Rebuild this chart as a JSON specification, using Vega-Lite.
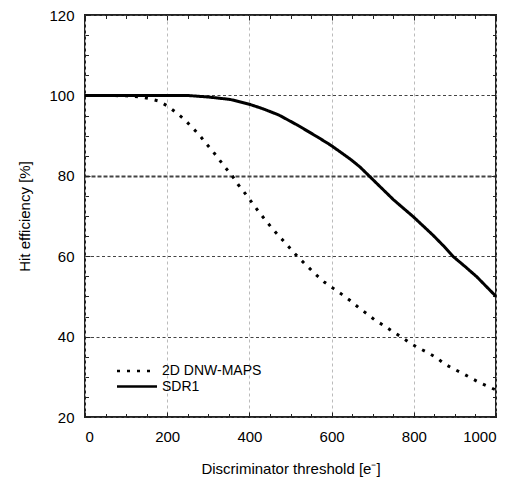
{
  "$schema": "https://vega.github.io/schema/vega-lite/v6.json",
  "width": 411,
  "height": 402,
  "autosize": {"type": "none"},
  "padding": {"left": 85, "top": 15, "right": 32, "bottom": 60},
  "background": "white",
  "config": {
    "view": {"stroke": "#222", "strokeWidth": 2},
    "font": "Liberation Sans",
    "axis": {"domain": false, "labelFont": "Liberation Sans", "titleFont": "Liberation Sans", "tickColor": "#222", "grid": false}
  },
  "data": {
    "values": [
      {"s": "2D DNW-MAPS", "x": 0, "y": 100},
      {"s": "2D DNW-MAPS", "x": 50, "y": 100},
      {"s": "2D DNW-MAPS", "x": 100, "y": 99.9},
      {"s": "2D DNW-MAPS", "x": 134, "y": 99.6},
      {"s": "2D DNW-MAPS", "x": 156, "y": 99.2},
      {"s": "2D DNW-MAPS", "x": 179, "y": 98.6},
      {"s": "2D DNW-MAPS", "x": 200, "y": 97.4},
      {"s": "2D DNW-MAPS", "x": 221, "y": 95.8},
      {"s": "2D DNW-MAPS", "x": 241, "y": 94.1},
      {"s": "2D DNW-MAPS", "x": 259, "y": 92.2},
      {"s": "2D DNW-MAPS", "x": 278, "y": 90.2},
      {"s": "2D DNW-MAPS", "x": 294, "y": 88.1},
      {"s": "2D DNW-MAPS", "x": 310, "y": 86.2},
      {"s": "2D DNW-MAPS", "x": 326, "y": 84.1},
      {"s": "2D DNW-MAPS", "x": 341, "y": 82.1},
      {"s": "2D DNW-MAPS", "x": 358, "y": 80.0},
      {"s": "2D DNW-MAPS", "x": 372, "y": 77.9},
      {"s": "2D DNW-MAPS", "x": 389, "y": 75.7},
      {"s": "2D DNW-MAPS", "x": 405, "y": 73.5},
      {"s": "2D DNW-MAPS", "x": 421, "y": 71.3},
      {"s": "2D DNW-MAPS", "x": 438, "y": 69.1},
      {"s": "2D DNW-MAPS", "x": 454, "y": 67.1},
      {"s": "2D DNW-MAPS", "x": 472, "y": 65.0},
      {"s": "2D DNW-MAPS", "x": 491, "y": 62.9},
      {"s": "2D DNW-MAPS", "x": 507, "y": 61.0},
      {"s": "2D DNW-MAPS", "x": 525, "y": 59.1},
      {"s": "2D DNW-MAPS", "x": 545, "y": 57.1},
      {"s": "2D DNW-MAPS", "x": 564, "y": 55.2},
      {"s": "2D DNW-MAPS", "x": 583, "y": 53.5},
      {"s": "2D DNW-MAPS", "x": 604, "y": 52.0},
      {"s": "2D DNW-MAPS", "x": 625, "y": 50.5},
      {"s": "2D DNW-MAPS", "x": 646, "y": 48.9},
      {"s": "2D DNW-MAPS", "x": 666, "y": 47.2},
      {"s": "2D DNW-MAPS", "x": 687, "y": 45.6},
      {"s": "2D DNW-MAPS", "x": 707, "y": 44.0},
      {"s": "2D DNW-MAPS", "x": 728, "y": 42.7},
      {"s": "2D DNW-MAPS", "x": 749, "y": 41.2},
      {"s": "2D DNW-MAPS", "x": 770, "y": 39.9},
      {"s": "2D DNW-MAPS", "x": 792, "y": 38.3},
      {"s": "2D DNW-MAPS", "x": 813, "y": 37.1},
      {"s": "2D DNW-MAPS", "x": 834, "y": 36.0},
      {"s": "2D DNW-MAPS", "x": 856, "y": 34.7},
      {"s": "2D DNW-MAPS", "x": 875, "y": 33.2},
      {"s": "2D DNW-MAPS", "x": 896, "y": 32.0},
      {"s": "2D DNW-MAPS", "x": 918, "y": 30.9},
      {"s": "2D DNW-MAPS", "x": 939, "y": 29.7},
      {"s": "2D DNW-MAPS", "x": 961, "y": 28.5},
      {"s": "2D DNW-MAPS", "x": 983, "y": 27.5},
      {"s": "2D DNW-MAPS", "x": 1000, "y": 26.7},
      {"s": "SDR1", "x": 0, "y": 100},
      {"s": "SDR1", "x": 100, "y": 100},
      {"s": "SDR1", "x": 200, "y": 100},
      {"s": "SDR1", "x": 247, "y": 100},
      {"s": "SDR1", "x": 300, "y": 99.6},
      {"s": "SDR1", "x": 353, "y": 99.0},
      {"s": "SDR1", "x": 400, "y": 97.8},
      {"s": "SDR1", "x": 435, "y": 96.6},
      {"s": "SDR1", "x": 472, "y": 95.1},
      {"s": "SDR1", "x": 517, "y": 92.6},
      {"s": "SDR1", "x": 565, "y": 89.7},
      {"s": "SDR1", "x": 598, "y": 87.6},
      {"s": "SDR1", "x": 623, "y": 85.8},
      {"s": "SDR1", "x": 646, "y": 84.1},
      {"s": "SDR1", "x": 669, "y": 82.2},
      {"s": "SDR1", "x": 693, "y": 79.8},
      {"s": "SDR1", "x": 720, "y": 77.1},
      {"s": "SDR1", "x": 750, "y": 74.1},
      {"s": "SDR1", "x": 775, "y": 71.9},
      {"s": "SDR1", "x": 799, "y": 69.8},
      {"s": "SDR1", "x": 823, "y": 67.5},
      {"s": "SDR1", "x": 847, "y": 65.2},
      {"s": "SDR1", "x": 872, "y": 62.6},
      {"s": "SDR1", "x": 896, "y": 59.9},
      {"s": "SDR1", "x": 925, "y": 57.4},
      {"s": "SDR1", "x": 953, "y": 54.9},
      {"s": "SDR1", "x": 977, "y": 52.4},
      {"s": "SDR1", "x": 1000, "y": 50.0}
    ]
  },
  "layer": [
    {
      "mark": {"type": "line", "color": "black", "strokeWidth": 3, "strokeCap": "butt", "clip": true},
      "encoding": {
        "x": {"field": "x", "type": "quantitative", "scale": {"domain": [0, 1000], "nice": false, "zero": false},
          "axis": {"orient": "bottom", "values": [0, 200, 400, 600, 800, 1000], "format": "d", "tickSize": -5, "tickWidth": 1, "labelPadding": 17, "labelFontSize": 15, "labelColor": "black",
            "grid": true, "gridColor": "#bbbbbb", "gridDash": [3, 3], "gridWidth": 1,
            "title": "Discriminator threshold [e⁻]", "titleFontSize": 15, "titleFontWeight": "normal", "titleColor": "black", "titleBaseline": "alphabetic", "titleY": 56}},
        "y": {"field": "y", "type": "quantitative", "scale": {"domain": [20, 120], "nice": false, "zero": false},
          "axis": {"orient": "left", "values": [20, 40, 60, 80, 100, 120], "format": "d", "tickSize": -5, "tickWidth": 1, "labelPadding": 16, "labelFontSize": 15, "labelColor": "black",
            "grid": true, "gridColor": "#444444",
            "gridDash": {"condition": {"test": "datum.value === 80", "value": [4, 2]}, "value": [3, 2.5]},
            "gridWidth": {"condition": {"test": "datum.value === 80", "value": 2}, "value": 1},
            "title": "Hit efficiency [%]", "titleFontSize": 15, "titleFontWeight": "normal", "titleColor": "black", "titleBaseline": "alphabetic", "titleX": -56}},
        "strokeDash": {"field": "s", "type": "nominal",
          "scale": {"domain": ["2D DNW-MAPS", "SDR1"], "range": [[3, 7], [1, 0]]},
          "legend": {"title": null, "orient": "none", "legendX": 63, "legendY": 349, "padding": 0,
            "symbolType": "M-7.6,0H0.4", "symbolSize": 100, "symbolStrokeWidth": 2.5, "symbolStrokeColor": "black", "symbolFillColor": "transparent",
            "labelFontSize": 14, "labelColor": "black", "labelFont": "Liberation Sans", "labelOffset": 0, "rowPadding": 1.5, "symbolOffset": 0}}
      }
    },
    {
      "mark": {"type": "point", "opacity": 0},
      "encoding": {
        "x": {"field": "x", "type": "quantitative", "scale": {"domain": [0, 1000], "nice": false, "zero": false},
          "axis": {"orient": "top", "values": [0, 200, 400, 600, 800, 1000], "tickSize": -5, "tickWidth": 1, "labels": false, "title": null}},
        "y": {"field": "y", "type": "quantitative", "scale": {"domain": [20, 120], "nice": false, "zero": false},
          "axis": {"orient": "right", "values": [20, 40, 60, 80, 100, 120], "tickSize": -5, "tickWidth": 1, "labels": false, "title": null}}
      }
    },
    {
      "mark": {"type": "point", "opacity": 0},
      "encoding": {
        "x": {"field": "x", "type": "quantitative", "scale": {"domain": [0, 1000], "nice": false, "zero": false},
          "axis": {"orient": "bottom", "values": [50, 100, 150, 250, 300, 350, 450, 500, 550, 650, 700, 750, 850, 900, 950], "tickSize": -3.5, "tickWidth": 1, "labels": false, "title": null}},
        "y": {"field": "y", "type": "quantitative", "scale": {"domain": [20, 120], "nice": false, "zero": false},
          "axis": {"orient": "left", "values": [25, 30, 35, 45, 50, 55, 65, 70, 75, 85, 90, 95, 105, 110, 115], "tickSize": -3.5, "tickWidth": 1, "labels": false, "title": null}}
      }
    },
    {
      "mark": {"type": "point", "opacity": 0},
      "encoding": {
        "x": {"field": "x", "type": "quantitative", "scale": {"domain": [0, 1000], "nice": false, "zero": false},
          "axis": {"orient": "top", "values": [50, 100, 150, 250, 300, 350, 450, 500, 550, 650, 700, 750, 850, 900, 950], "tickSize": -3.5, "tickWidth": 1, "labels": false, "title": null}},
        "y": {"field": "y", "type": "quantitative", "scale": {"domain": [20, 120], "nice": false, "zero": false},
          "axis": {"orient": "right", "values": [25, 30, 35, 45, 50, 55, 65, 70, 75, 85, 90, 95, 105, 110, 115], "tickSize": -3.5, "tickWidth": 1, "labels": false, "title": null}}
      }
    }
  ],
  "resolve": {"axis": {"x": "independent", "y": "independent"}}
}
